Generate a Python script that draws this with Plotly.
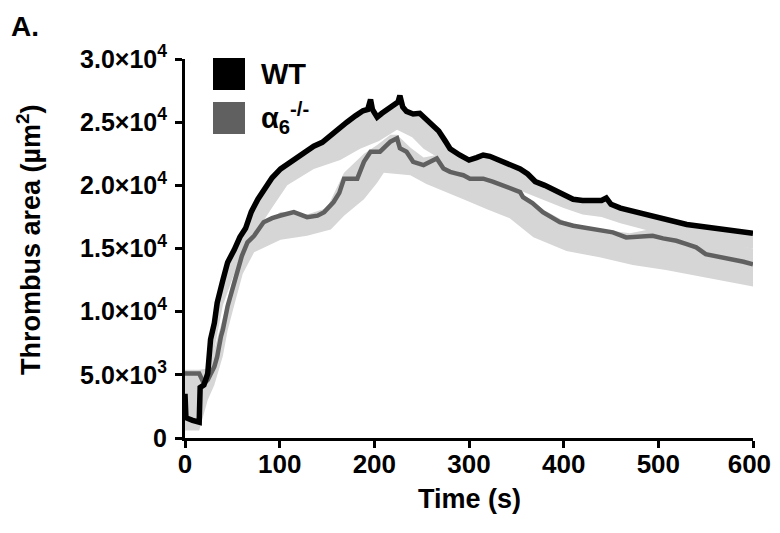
import plotly.graph_objects as go

# ---------------- data ----------------
t_wt = [0, 1, 8, 15, 16, 20, 24, 27, 31, 34, 40, 45, 52, 58, 64, 70, 77, 84, 92, 101,
        112, 125, 136, 145, 154, 162, 171, 180, 188, 193, 196, 198, 203, 208, 213, 220,
        225, 227, 230, 234, 241, 248, 255, 262, 268, 275, 280, 290, 300, 308, 315, 322,
        329, 336, 343, 354, 362, 370, 380, 392, 400, 410, 420, 430, 440, 445, 450, 460,
        470, 480, 490, 500, 510, 520, 530, 540, 550, 560, 570, 580, 590, 600]
wt = [3500, 1600, 1400, 1250, 4000, 4200, 5100, 7800, 9100, 10700, 12500, 13900, 14900,
      15900, 16600, 17900, 18900, 19700, 20600, 21300, 21900, 22500, 23100, 23400, 24000,
      24400, 25000, 25500, 25900, 26000, 26800, 26000, 25400, 25700, 26000, 26300, 26600,
      27100, 26200, 25850, 25650, 25700, 25200, 24700, 24300, 23500, 22900, 22400, 22000,
      22200, 22400, 22300, 22100, 21900, 21600, 21300, 20900, 20300, 20000, 19600, 19300,
      18900, 18800, 18800, 18800, 19000, 18500, 18200, 18000, 17900, 17700, 17500, 17300,
      17100, 16900, 16800, 16700, 16600, 16500, 16400, 16300, 16200]

t_wt_lo = [0, 15, 18, 24, 31, 40, 52, 64, 77, 90, 108, 136, 164, 185, 205, 224, 240, 252,
           265, 280, 300, 320, 340, 360, 380, 400, 420, 440, 460, 480, 500, 520, 540, 560,
           580, 600]
wt_lo = [1200, 900, 2500, 3800, 7000, 10500, 13000, 14800, 16500, 18000, 20000, 21300,
         22000, 22900, 23500, 24400, 23800, 22900, 22300, 21300, 20600, 20400, 20000, 19400,
         18800, 18200, 17700, 17500, 17000, 16600, 16200, 15900, 15600, 15400, 15200, 15000]

t_ko = [0, 15, 20, 24, 31, 34, 38, 40, 45, 52, 60, 66, 73, 83, 92, 101, 115, 129, 140,
        147, 157, 163, 168, 182, 189, 196, 206, 217, 224, 227, 234, 241, 252, 260, 266,
        273, 280, 287, 294, 301, 315, 325, 336, 345, 354, 357, 367, 378, 396, 410, 420,
        435, 452, 466, 480, 494, 505, 519, 530, 540, 550, 565, 578, 590, 600]
ko = [5100, 5100, 4300, 4600, 5650, 6440, 8040, 8570, 10430, 12200, 14400, 15490, 16010,
      17080, 17400, 17610, 17880, 17480, 17600, 17880, 18680, 19400, 20530, 20530, 21860,
      22660, 22660, 23460, 23720, 22930, 22660, 21860, 21600, 21900, 22130, 21330, 21070,
      20930, 20800, 20530, 20530, 20300, 20000, 19700, 19470, 19070, 18600, 17880, 17080,
      16800, 16680, 16500, 16280, 15880, 15950, 16010, 15800, 15610, 15350, 15090, 14550,
      14350, 14150, 13950, 13750]

t_ko_lo = [0, 15, 20, 24, 31, 40, 45, 52, 61, 73, 101, 129, 154, 168, 189, 203, 210, 224,
           238, 255, 266, 294, 319, 343, 368, 403, 438, 473, 508, 543, 578, 600]
ko_lo = [600, 600, 2000, 3000, 4200, 6500, 8500, 10500, 13000, 14700, 15700, 16000, 16500,
         17600, 18900, 20200, 21000, 20900, 20800, 20100, 19800, 18900, 18100, 17400, 15900,
         14800, 14300, 13700, 13300, 12800, 12300, 12000]

t_ko_hi = [0, 15, 24, 31, 40, 52, 61, 73, 101, 129, 150, 168, 189, 203, 217, 224, 238,
           252, 266, 280, 300, 330, 350, 380, 400, 420, 450, 470, 490, 520, 550, 580, 600]
ko_hi = [5400, 5400, 5500, 7000, 9500, 13000, 15000, 16300, 17900, 17700, 18200, 21000,
         22500, 23200, 24000, 24000, 23000, 22200, 22400, 21800, 21000, 20400, 19700, 18000,
         17200, 16800, 16400, 16200, 16500, 16200, 15600, 15300, 15000]

x_ticks = [0, 100, 200, 300, 400, 500, 600]
y_ticks = [0, 5000, 10000, 15000, 20000, 25000, 30000]
y_tick_text = ["0", "5.0×10<sup>3</sup>", "1.0×10<sup>4</sup>", "1.5×10<sup>4</sup>",
               "2.0×10<sup>4</sup>", "2.5×10<sup>4</sup>", "3.0×10<sup>4</sup>"]
series_names = ["WT", "α<sub>6</sub><sup>-/-</sup>"]

# ---------------- styles ----------------
BAND = "#d6d6d6"
WT_COLOR = "#000000"
KO_COLOR = "#606060"
FONT = "Liberation Sans, Arial, sans-serif"

fig = go.Figure()

# SEM bands
fig.add_trace(go.Scatter(x=t_wt + t_wt_lo[::-1], y=wt + wt_lo[::-1], fill="toself",
                         fillcolor=BAND, line=dict(width=0), mode="lines",
                         hoverinfo="skip", showlegend=False))
fig.add_trace(go.Scatter(x=t_ko_hi + t_ko_lo[::-1], y=ko_hi + ko_lo[::-1], fill="toself",
                         fillcolor=BAND, line=dict(width=0), mode="lines",
                         hoverinfo="skip", showlegend=False))
# mean lines
fig.add_trace(go.Scatter(x=t_ko, y=ko, mode="lines", name=series_names[1],
                         line=dict(color=KO_COLOR, width=4.5), showlegend=False))
fig.add_trace(go.Scatter(x=t_wt, y=wt, mode="lines", name=series_names[0],
                         line=dict(color=WT_COLOR, width=5.5), showlegend=False))

# page body has an 8px margin; figure spans window x 8..780, y 8..525
OFF = 8
W, H = 780 - OFF, 533 - 2 * OFF
# plot area wanted in the screenshot: x 185..753, y 59..438
SX0, SX1, SY0, SY1 = 185, 753, 59, 438
L, T = SX0 - OFF, SY0 - OFF
R, B = W - (SX1 - OFF), H - (SY1 - OFF)
pw, ph = SX1 - SX0, SY1 - SY0


def px(x):
    return (x - SX0) / pw


def py(y):
    return (SY1 - y) / ph


# legend (drawn manually to get large square keys)
for i, (col, name) in enumerate([(WT_COLOR, series_names[0]), (KO_COLOR, series_names[1])]):
    top = 58 + i * 44
    fig.add_shape(type="rect", xref="paper", yref="paper",
                  x0=px(213), x1=px(245), y0=py(top + 32), y1=py(top),
                  fillcolor=col, line=dict(width=0))
    fig.add_annotation(xref="paper", yref="paper", x=px(259), y=py(top + 16),
                       xanchor="left", yanchor="middle", showarrow=False,
                       text="<b>" + name + "</b>",
                       font=dict(family=FONT, size=29, color="#000"))

fig.add_annotation(xref="paper", yref="paper", x=px(9), y=py(27), xanchor="left",
                   yanchor="middle", showarrow=False, text="<b>A.</b>",
                   font=dict(family=FONT, size=28, color="#000"))
fig.add_annotation(xref="paper", yref="paper", x=px(29), y=py(240), xanchor="center",
                   yanchor="middle", showarrow=False, textangle=-90,
                   text="<b>Thrombus area (µm<sup>2</sup>)</b>",
                   font=dict(family=FONT, size=27, color="#000"))
fig.add_annotation(xref="paper", yref="paper", x=px(469), y=py(499), xanchor="center",
                   yanchor="middle", showarrow=False, text="<b>Time (s)</b>",
                   font=dict(family=FONT, size=27, color="#000"))

fig.update_layout(
    width=W, height=H, margin=dict(l=L, r=R, t=T, b=B, autoexpand=False),
    paper_bgcolor="white", plot_bgcolor="white", showlegend=False,
)
# the last label gets a trailing no-break space so it stays inside the window
x_tick_text = [f"<b>{v}</b>" for v in x_ticks]
x_tick_text[-1] = f"<b>{x_ticks[-1]}\u00a0</b>"
fig.update_xaxes(range=[0, 600], tickvals=x_ticks, ticktext=x_tick_text,
                 showgrid=False, zeroline=False, showline=True, linecolor="#000", linewidth=3,
                 ticks="outside", ticklen=7, tickwidth=3, tickcolor="#000",
                 ticklabelstandoff=-6, ticklabeloverflow="allow", automargin=False,
                 tickfont=dict(family=FONT, size=26, color="#000"))
fig.update_yaxes(range=[0, 30000], tickvals=y_ticks,
                 ticktext=[f"<b>{s}</b>" for s in y_tick_text],
                 showgrid=False, zeroline=False, showline=True, linecolor="#000", linewidth=3,
                 ticks="outside", ticklen=7, tickwidth=3, tickcolor="#000",
                 ticklabelstandoff=3, automargin=False,
                 tickfont=dict(family=FONT, size=25, color="#000"))

fig.write_html(
    "out.html",
    config={"displayModeBar": False, "responsive": False},
    post_script="document.documentElement.style.overflow='hidden';document.body.style.overflow='hidden';",
)
